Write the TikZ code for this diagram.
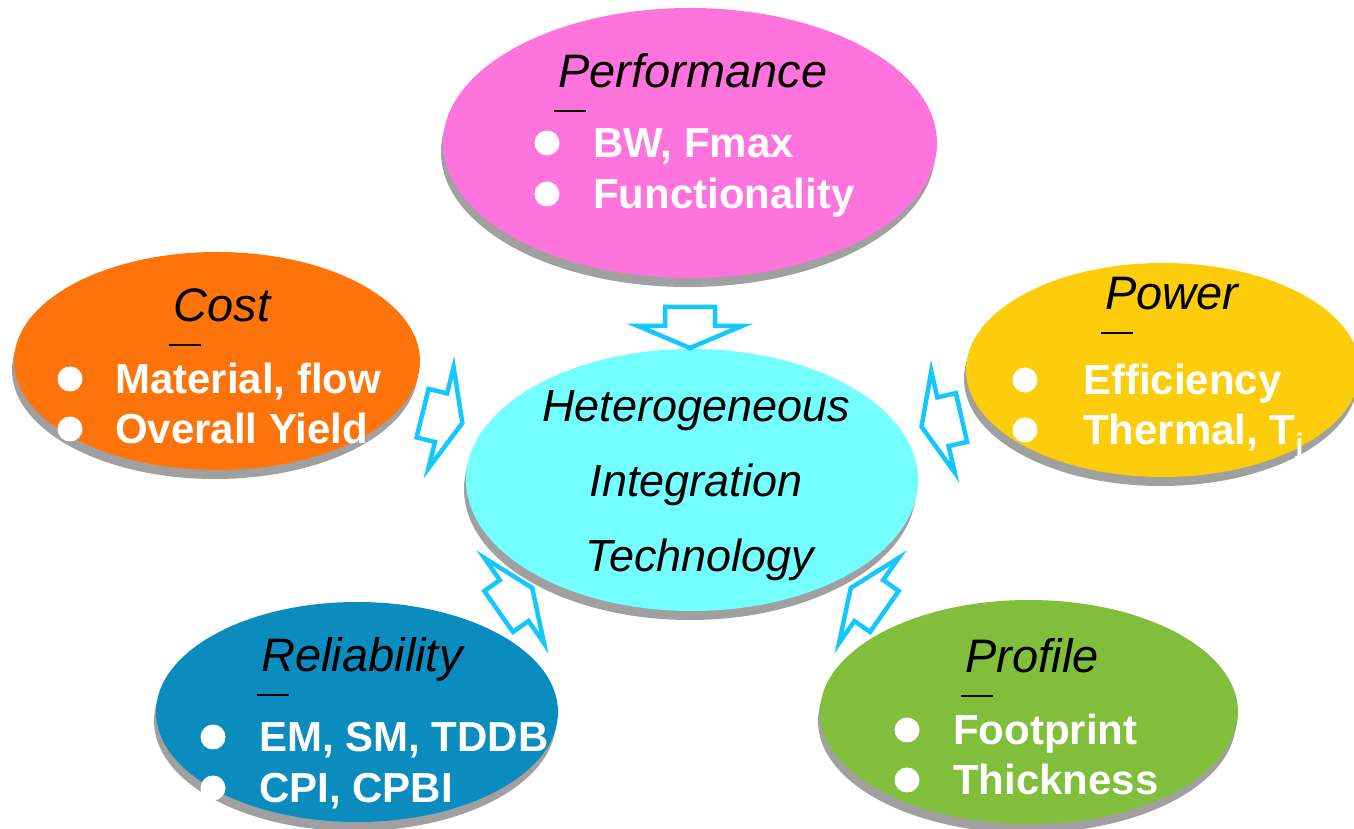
\documentclass[tikz,border=0pt]{standalone}
\usepackage{fontspec}
\setmainfont{Liberation Sans}
\usetikzlibrary{shapes.geometric}
\usetikzlibrary{shadows}

\definecolor{perfpink}{RGB}{255,115,220}
\definecolor{costorange}{RGB}{255,116,10}
\definecolor{poweryellow}{RGB}{253,204,10}
\definecolor{relblue}{RGB}{10,140,190}
\definecolor{profgreen}{RGB}{128,190,60}
\definecolor{hitcyan}{RGB}{115,255,255}
\definecolor{arrowcyan}{RGB}{20,200,255}
\definecolor{shadowgray}{RGB}{160,160,160}

\tikzset{
  blob/.style={ellipse, inner sep=0pt,
    drop shadow={shadow xshift=-2pt, shadow yshift=-9pt, fill=shadowgray, opacity=1}},
  heading/.style={inner sep=0pt, anchor=base, font=\fontsize{47}{47}\selectfont\itshape},
  centre/.style={inner sep=0pt, anchor=base, font=\fontsize{45}{45}\selectfont\itshape},
  item/.style={inner sep=0pt, anchor=base west, text=white,
    font=\fontsize{42}{42}\selectfont\bfseries},
  underbar/.style={line width=2.5pt},
  fatarrow/.pic={
    \draw[line width=4.5pt, draw=arrowcyan, fill=white, line join=miter]
      (-20,25) -- (-1,25) -- (-1,52) -- (21,0) -- (-1,-52) -- (-1,-25) -- (-20,-25) -- cycle;
  }
}

\begin{document}
\begin{tikzpicture}[x=1pt, y=1pt]
  \useasboundingbox (0,0) rectangle (1354,829);

  \node[blob, fill=perfpink, minimum width=494pt, minimum height=270pt] (perf) at (690,686) {};
  \node[blob, fill=costorange, minimum width=406pt, minimum height=218pt] (cost) at (217,468) {};
  \node[blob, fill=poweryellow, minimum width=394pt, minimum height=214pt] (power) at (1163,459) {};
  \node[blob, fill=relblue, minimum width=402pt, minimum height=220pt] (rel) at (357,117) {};
  \node[blob, fill=profgreen, minimum width=418pt, minimum height=224pt] (prof) at (1029,117) {};
  \node[blob, fill=hitcyan, minimum width=452pt, minimum height=262pt] (hit) at (692,349) {};

  % Performance
  \node[heading] (perf-title) at (693,741) {Performance};
  \draw[underbar] ([xshift=-4pt,yshift=-23pt]perf-title.base west) -- ++(32,0);
  \node[item] (perf-a) at (593,671) {BW, Fmax};
  \node[item] (perf-b) at (593,620) {Functionality};
  \fill[white] ([xshift=-46pt,yshift=15pt]perf-a.base west) circle (12.5);
  \fill[white] ([xshift=-46pt,yshift=15pt]perf-b.base west) circle (12.5);

  % Cost
  \node[heading] (cost-title) at (222,507) {Cost};
  \draw[underbar] ([xshift=-4pt,yshift=-23pt]cost-title.base west) -- ++(32,0);
  \node[item] (cost-a) at (115,435) {Material, flow};
  \node[item] (cost-b) at (115,385) {Overall Yield};
  \fill[white] ([xshift=-45pt,yshift=15pt]cost-a.base west) circle (12.5);
  \fill[white] ([xshift=-45pt,yshift=15pt]cost-b.base west) circle (12.5);

  % Power
  \node[heading] (power-title) at (1172,519) {Power};
  \draw[underbar] ([xshift=-4pt,yshift=-23pt]power-title.base west) -- ++(32,0);
  \node[item] (power-a) at (1083,434) {Efficiency};
  \node[item] (power-b) at (1083,384) {Thermal, T\raisebox{-9pt}{\fontsize{28}{28}\selectfont j}};
  \fill[white] ([xshift=-58pt,yshift=15pt]power-a.base west) circle (12.5);
  \fill[white] ([xshift=-58pt,yshift=15pt]power-b.base west) circle (12.5);

  % Reliability
  \node[heading] (rel-title) at (362,157) {Reliability};
  \draw[underbar] ([xshift=-4pt,yshift=-23pt]rel-title.base west) -- ++(32,0);
  \node[item] (rel-a) at (259,77) {EM, SM, TDDB};
  \node[item] (rel-b) at (259,26) {CPI, CPBI};
  \fill[white] ([xshift=-46pt,yshift=15pt]rel-a.base west) circle (12.5);
  \fill[white] ([xshift=-46pt,yshift=15pt]rel-b.base west) circle (12.5);

  % Profile
  \node[heading] (prof-title) at (1032,156) {Profile};
  \draw[underbar] ([xshift=-4pt,yshift=-23pt]prof-title.base west) -- ++(32,0);
  \node[item] (prof-a) at (953,84) {Footprint};
  \node[item] (prof-b) at (953,34) {Thickness};
  \fill[white] ([xshift=-46pt,yshift=15pt]prof-a.base west) circle (12.5);
  \fill[white] ([xshift=-46pt,yshift=15pt]prof-b.base west) circle (12.5);

  % centre
  \node[centre] (hit-a) at (696,407) {Heterogeneous};
  \node[centre] (hit-b) at (696,332) {Integration};
  \node[centre] (hit-c) at (700,257) {Technology};

  % arrows into the centre
  \pic[rotate=-90] at (690,502) {fatarrow};
  \pic[rotate=-14] at (442,411) {fatarrow};
  \pic[rotate=193] at (942,407) {fatarrow};
  \pic[rotate=35] at (515,229) {fatarrow};
  \pic[rotate=145] at (868,229) {fatarrow};
\end{tikzpicture}
\end{document}
